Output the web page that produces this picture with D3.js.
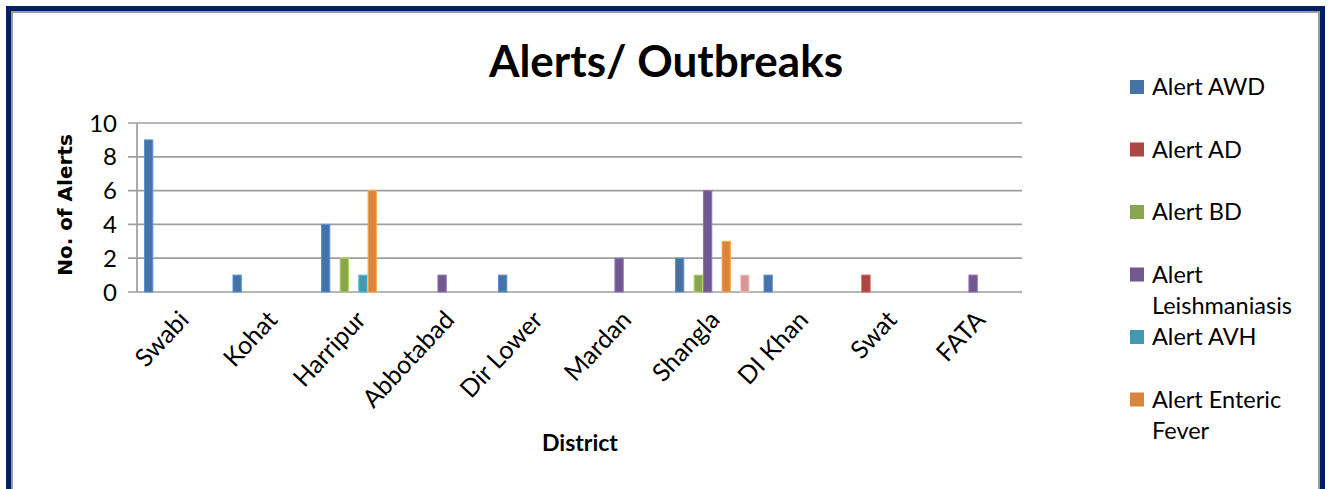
<!DOCTYPE html>
<html>
<head>
<meta charset="utf-8">
<script src="https://cdn.jsdelivr.net/npm/d3@7"></script>
<style>
  html, body { margin: 0; padding: 0; background: #fff; }
  svg { display: block; }
</style>
</head>
<body>
<div class="canvas"></div>
<script>
// data
const districts = ['Swabi', 'Kohat', 'Harripur', 'Abbotabad', 'Dir Lower', 'Mardan', 'Shangla', 'DI Khan', 'Swat', 'FATA'];
const seriesNames = ['Alert AWD', 'Alert AD', 'Alert BD', 'Alert Leishmaniasis', 'Alert AVH', 'Alert Enteric Fever', 'Alert 7', 'Alert 8'];
// legend in the source only shows the first six (it is cut off)
const legendLines = [['Alert AWD'], ['Alert AD'], ['Alert BD'], ['Alert', 'Leishmaniasis'], ['Alert AVH'], ['Alert Enteric', 'Fever']];

const alertAWD       = [9, 1, 4, 0, 1, 0, 2, 1, 0, 0];
const alertAD        = [0, 0, 0, 0, 0, 0, 0, 0, 1, 0];
const alertBD        = [0, 0, 2, 0, 0, 0, 1, 0, 0, 0];
const alertLeish     = [0, 0, 0, 1, 0, 2, 6, 0, 0, 1];
const alertAVH       = [0, 0, 1, 0, 0, 0, 0, 0, 0, 0];
const alertEnteric   = [0, 0, 6, 0, 0, 0, 3, 0, 0, 0];
const alert7         = [0, 0, 0, 0, 0, 0, 0, 0, 0, 0];
const alert8         = [0, 0, 0, 0, 0, 0, 1, 0, 0, 0];
const yTicks = [0, 2, 4, 6, 8, 10];

const seriesValues = [alertAWD, alertAD, alertBD, alertLeish, alertAVH, alertEnteric, alert7, alert8];
const colors = ['#4572A7', '#AA4643', '#89A54E', '#71588F', '#4198AF', '#DB843D', '#93A9CF', '#D69896'];

const width = 1331, height = 489;
const font = 'Lato, "Open Sans", sans-serif';

const svg = d3.select('.canvas')
    .append('svg')
        .attr('width', width)
        .attr('height', height);

// outer frame (navy band + grey inner line), bottom runs off the picture
svg.append('rect')
    .attr('x', 8.5).attr('y', 8.5)
    .attr('width', 1314).attr('height', 520)
    .attr('fill', 'none')
    .attr('stroke', '#002060')
    .attr('stroke-width', 5);
svg.append('rect')
    .attr('x', 12).attr('y', 12)
    .attr('width', 1307).attr('height', 520)
    .attr('fill', 'none')
    .attr('stroke', '#9a9a9a')
    .attr('stroke-width', 2);

// plot area
const plot = {left: 137, right: 1022, top: 123, bottom: 292};

const x = d3.scaleBand()
    .domain(districts)
    .range([plot.left, plot.right])
    .padding(0);

const xs = d3.scaleBand()
    .domain(seriesNames)
    .range([0, x.bandwidth()])
    .paddingInner(0)
    .paddingOuter(0.75);

const y = d3.scaleLinear()
    .domain([0, 10])
    .range([plot.bottom, plot.top]);

// gridlines
svg.append('g')
    .selectAll('line')
    .data(yTicks)
    .enter()
    .append('line')
        .attr('x1', plot.left - 9)
        .attr('x2', plot.right)
        .attr('y1', d => y(d))
        .attr('y2', d => y(d))
        .attr('stroke', '#9e9e9e')
        .attr('stroke-width', 1.7);

// y axis line
svg.append('line')
    .attr('x1', plot.left).attr('x2', plot.left)
    .attr('y1', plot.top).attr('y2', plot.bottom)
    .attr('stroke', '#9e9e9e')
    .attr('stroke-width', 1.7);

// y tick labels
svg.append('g')
    .selectAll('text')
    .data(yTicks)
    .enter()
    .append('text')
        .attr('x', 117)
        .attr('y', d => y(d))
        .attr('dy', '0.36em')
        .attr('text-anchor', 'end')
        .attr('font-family', font)
        .attr('font-size', 24)
        .attr('fill', '#000')
        .text(d => d);

// bars
const groups = svg.append('g')
    .selectAll('g')
    .data(seriesNames)
    .enter()
    .append('g')
        .attr('fill', (d, i) => colors[i]);

groups.selectAll('rect')
    .data((name, i) => seriesValues[i].map((v, j) => ({name, district: districts[j], value: v, i})))
    .enter()
    .filter(d => d.value > 0)
    .append('rect')
        .attr('x', d => x(d.district) + xs(d.name) + 0.5)
        .attr('y', d => y(d.value))
        .attr('width', xs.bandwidth() - 1)
        .attr('height', d => plot.bottom - y(d.value))
        .attr('stroke', d => d3.color(colors[d.i]).brighter(0.7))
        .attr('stroke-width', 1);

// x category labels, rotated
svg.append('g')
    .selectAll('text')
    .data(districts)
    .enter()
    .append('text')
        .attr('transform', d => `translate(${x(d) + x.bandwidth() / 2 + 9}, 321) rotate(-47)`)
        .attr('text-anchor', 'end')
        .attr('font-family', font)
        .attr('font-size', 25)
        .attr('fill', '#000')
        .text(d => d);

// titles
svg.append('text')
    .attr('x', 666).attr('y', 77)
    .attr('text-anchor', 'middle')
    .attr('font-family', font)
    .attr('font-weight', 'bold')
    .attr('font-size', 44)
    .text('Alerts/ Outbreaks');

svg.append('text')
    .attr('x', 580).attr('y', 451)
    .attr('text-anchor', 'middle')
    .attr('font-family', font)
    .attr('font-weight', 'bold')
    .attr('font-size', 23)
    .text('District');

svg.append('text')
    .attr('transform', 'translate(72, 205) rotate(-90)')
    .attr('text-anchor', 'middle')
    .attr('font-family', '"DejaVu Sans", Verdana, sans-serif')
    .attr('font-weight', 'bold')
    .attr('font-size', 20)
    .text('No. of Alerts');

// legend
const legend = svg.append('g')
    .selectAll('g')
    .data(legendLines)
    .enter()
    .append('g')
        .attr('transform', (d, i) => `translate(1130, ${87 + i * 62.5})`);

legend.append('rect')
    .attr('x', 0).attr('y', -7)
    .attr('width', 14).attr('height', 14)
    .attr('fill', (d, i) => colors[i]);

legend.append('text')
    .attr('font-family', font)
    .attr('font-size', 23.5)
    .attr('fill', '#000')
    .selectAll('tspan')
    .data(d => d)
    .enter()
    .append('tspan')
        .attr('x', 22)
        .attr('y', (d, k) => 8 + k * 31)
        .text(d => d);
</script>
</body>
</html>
